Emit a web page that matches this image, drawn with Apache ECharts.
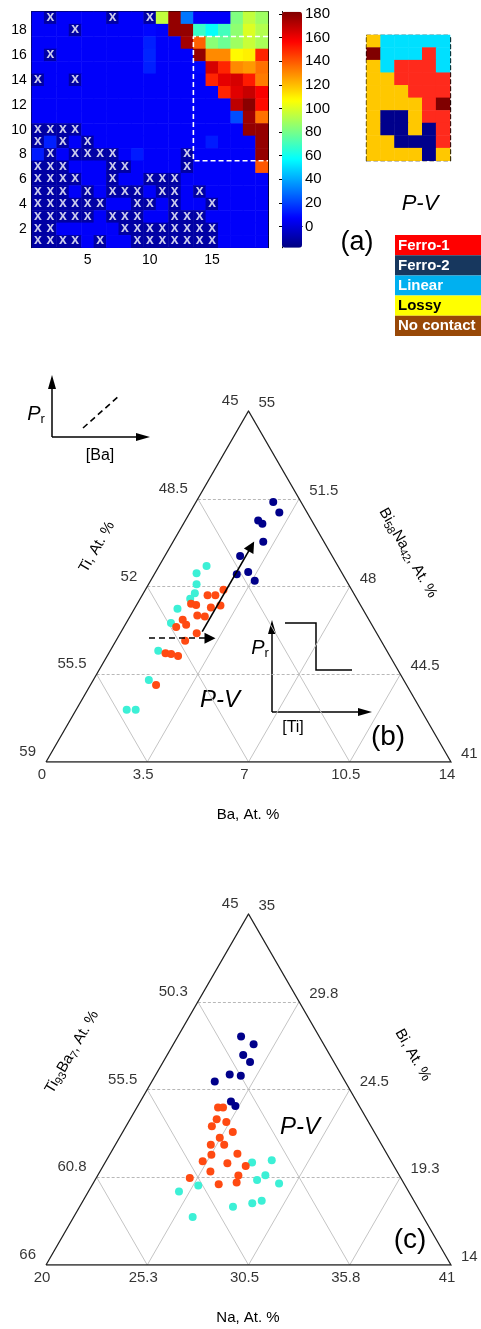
<!DOCTYPE html>
<html><head><meta charset="utf-8">
<script src="https://cdn.jsdelivr.net/npm/echarts@6/dist/echarts.min.js"></script>
<style>html,body{margin:0;padding:0;background:#fff}#c{width:481px;height:1329px}</style>
</head><body><div id="c"></div>
<script>
// ---------------- DATA ----------------
// (a) permittivity map, rows listed from top (19) to bottom (1), 19 columns each
const N = -11;
const epsRows = [
 [6,N,6,6,6,6,N,6,6,N,95,178,30,6,6,6,82,95,88],
 [6,6,6,N,6,6,6,6,6,8,6,178,178,68,58,70,85,100,92],
 [6,6,6,6,6,6,6,6,6,13,6,6,175,138,84,78,88,96,90],
 [6,N,6,6,6,6,6,6,6,14,6,6,6,178,130,130,108,110,150],
 [6,6,6,6,6,6,6,6,6,13,6,6,6,8,165,150,130,127,135],
 [N,6,6,N,6,6,6,6,6,6,6,6,6,6,150,162,165,152,133],
 [6,6,6,6,6,6,6,6,6,6,6,6,6,6,6,150,163,168,158],
 [6,6,6,6,6,6,6,6,6,6,6,6,6,6,6,6,170,180,155],
 [6,6,6,6,6,6,6,6,6,6,6,6,6,6,6,6,22,176,135],
 [N,N,N,N,6,6,6,6,6,6,6,6,6,6,6,6,6,178,178],
 [N,13,N,6,N,6,6,6,6,6,6,6,6,6,12,6,6,6,178],
 [12,N,6,N,N,N,N,6,12,6,6,6,N,6,6,6,6,6,178],
 [N,N,N,6,6,6,N,N,6,6,6,6,N,6,6,6,6,6,140],
 [N,N,N,N,6,6,N,6,6,N,N,N,6,6,6,6,6,6,6],
 [N,N,N,6,N,6,N,N,N,6,N,N,6,N,6,6,6,6,6],
 [N,N,N,N,N,N,6,6,N,N,6,N,6,6,N,6,6,6,6],
 [N,N,N,N,N,6,N,N,N,6,6,N,N,N,6,6,6,6,6],
 [N,N,6,6,6,6,6,N,N,N,N,N,N,N,N,6,6,6,6],
 [N,N,N,N,6,N,6,6,N,N,N,N,N,N,N,6,6,6,6]
];
// cells marked with "x" (row : columns)
const xMarks = {19:[2,7,10],18:[4],16:[2],14:[1,4],10:[1,2,3,4],9:[1,3,5],8:[2,4,5,6,7,13],
 7:[1,2,3,7,8,13],6:[1,2,3,4,7,10,11,12],5:[1,2,3,5,7,8,9,11,12,14],4:[1,2,3,4,5,6,9,10,12,15],
 3:[1,2,3,4,5,7,8,9,12,13,14],2:[1,2,8,9,10,11,12,13,14,15],1:[1,2,3,4,6,9,10,11,12,13,14,15]};
const epsMin = -18, epsMax = 182;
const cbTicks = [0,20,40,60,80,100,120,140,160,180];

// P-V class map (top row first), 0 Ferro-1, 1 Ferro-2, 2 Linear, 3 Lossy, 4 No contact
const pvRows = [
 [3,2,2,2,2,2],
 [4,2,2,2,0,2],
 [3,2,0,0,0,2],
 [3,3,0,0,0,0],
 [3,3,3,0,0,0],
 [3,3,3,3,0,4],
 [3,1,1,3,0,0],
 [3,1,1,3,1,0],
 [3,3,1,1,1,0],
 [3,3,3,3,1,3]
];
const pvColors = ['#ff2a1c','#00008c','#00e0ff','#ffc800','#800000'];
const legendNames = ['Ferro-1','Ferro-2','Linear','Lossy','No contact'];
const legendColors = ['#ff0000','#17375e','#00b0f0','#ffff00','#984807'];
const legendTextColors = ['#fff','#fff','#fff','#000','#fff'];

// (b) compositions [Ba, Ti, Bi58Na42] at.%
const bLinear = [[1.64,49.54,48.82],[1.44,50.03,48.53],[1.66,50.25,48.09],[1.78,50.49,47.73],[1.73,50.77,47.51],
 [1.49,51.40,47.11],[1.55,51.91,46.54],[1.66,52.90,45.44],[1.92,53.80,44.27],[1.75,55.17,43.08],[2.06,54.86,43.08]];
const bFerro1 = [[2.70,49.43,47.87],[2.26,50.09,47.65],[2.53,49.82,47.65],[1.86,50.83,47.31],[2.06,50.68,47.26],
 [2.62,50.22,47.16],[2.91,49.86,47.24],[2.31,50.85,46.84],[2.59,50.61,46.80],[1.89,51.44,46.67],[2.11,51.43,46.47],
 [1.81,51.81,46.38],[2.64,51.22,46.14],[2.39,51.77,45.84],[1.96,52.71,45.34],[2.17,52.52,45.31],[2.45,52.32,45.23],
 [2.27,53.66,44.07]];
const bFerro2 = [[2.67,45.96,51.37],[3.09,45.96,50.95],[2.52,46.85,50.63],[2.73,46.77,50.50],[3.12,47.10,49.78],
 [2.60,48.19,49.22],[3.20,48.22,48.58],[2.85,48.66,48.49],[3.60,48.17,48.23]];
const bTicksBottom = ['0','3.5','7','10.5','14'];
const bTicksLeft = ['59','55.5','52','48.5','45'];
const bTicksRight = ['41','44.5','48','51.5','55'];

// (c) compositions [Na, Ti93Ba7, Bi] at.%
const cFerro2 = [[23.28,49.05,27.67],[24.16,48.63,27.21],[23.94,49.49,26.57],[24.51,49.35,26.14],[23.83,50.78,25.39],
 [24.44,50.24,25.32],[23.26,51.76,24.98],[24.70,51.52,23.78],[25.06,51.42,23.52]];
const cFerro1 = [[24.21,52.37,23.42],[24.47,52.11,23.42],[24.49,52.79,22.72],[25.07,52.37,22.56],[24.45,53.25,22.30],
 [25.71,52.34,21.95],[25.20,53.18,21.62],[24.95,53.86,21.19],[25.64,53.16,21.20],[25.28,54.13,20.59],[26.60,52.75,20.65],
 [25.02,54.77,20.21],[26.36,53.55,20.09],[27.39,52.68,19.93],[25.73,54.68,19.59],[27.30,53.35,19.35],[24.85,55.94,19.21],
 [27.42,53.65,18.93],[26.54,54.63,18.83]];
const cLinear = [[27.62,52.25,20.13],[28.57,51.16,20.27],[28.69,51.94,19.37],[28.40,52.51,19.09],[29.65,51.48,18.87],
 [25.52,55.73,18.75],[24.70,56.91,18.39],[29.26,52.89,17.85],[28.85,53.46,17.69],[27.95,54.56,17.49],[26.17,56.96,16.87]];
const cTicksBottom = ['20','25.3','30.5','35.8','41'];
const cTicksLeft = ['66','60.8','55.5','50.3','45'];
const cTicksRight = ['14','19.3','24.5','29.8','35'];

// ---------------- BUILD ----------------
const FONT = "'Liberation Sans', Arial, sans-serif";
const jet = ['#000080','#0000ff','#0080ff','#00ffff','#80ff80','#ffff00','#ff8000','#ff0000','#800000'];
const cols = Array.from({length:19},(_,i)=>String(i+1));
const rows = Array.from({length:19},(_,i)=>String(i+1));
const heat = [];
epsRows.forEach((r,ri)=>{ const row = 19-ri; r.forEach((v,ci)=>heat.push([ci,row-1,v])); });
const xm = [];
Object.keys(xMarks).forEach(r=>xMarks[r].forEach(c=>xm.push([c-1,+r-1])));
const pvData = [];
pvRows.forEach((r,ri)=>{ r.forEach((v,ci)=>pvData.push([ci, pvRows.length-1-ri, v])); });

const SQ = Math.sqrt(3)/2;
function tri(a,c){ return [a + c/2, c*SQ]; }

function ternarySeries(cfg){
  const xi = cfg.axis, yi = cfg.axis;
  const pos = p => tri((p[0]-cfg.bMin)/cfg.span, (p[2]-cfg.rMin)/cfg.span);
  const s = [];
  const hor = [], diag = [];
  [0.25,0.5,0.75].forEach(f=>{
    hor.push({coords:[tri(0,f),tri(1-f,f)]});
    diag.push({coords:[tri(f,0),tri(f,1-f)]});
    diag.push({coords:[tri(f,0),tri(0,f)]});
  });
  s.push({type:'lines',coordinateSystem:'cartesian2d',xAxisIndex:xi,yAxisIndex:yi,silent:true,
    lineStyle:{color:'#c4c4c4',width:1,type:'solid',opacity:1},data:diag,z:1});
  s.push({type:'lines',coordinateSystem:'cartesian2d',xAxisIndex:xi,yAxisIndex:yi,silent:true,
    lineStyle:{color:'#b8b8b8',width:1,type:[3,2],opacity:1},data:hor,z:1});
  s.push({type:'lines',coordinateSystem:'cartesian2d',xAxisIndex:xi,yAxisIndex:yi,silent:true,polyline:true,
    lineStyle:{color:'#222',width:1.3,opacity:1},data:[{coords:[tri(0,0),tri(1,0),tri(0,1),tri(0,0)]}],z:2});
  const lbl = (pts,names,position,offset)=>({type:'scatter',xAxisIndex:xi,yAxisIndex:yi,symbolSize:0,silent:true,
    data:pts.map((p,i)=>({value:p,name:names[i]})),
    label:{show:true,formatter:'{b}',position:position,distance:position==='bottom'?5:10,offset:offset,
      fontSize:15,color:'#000',fontFamily:FONT}});
  s.push(lbl([0,1,2,3,4].map(k=>tri(k/4,0)),cfg.tB,'bottom',[-4,0]));
  s.push(lbl([0,1,2,3,4].map(k=>tri(0,k/4)),cfg.tL,'left',[0,-10]));
  s.push(lbl([0,1,2,3,4].map(k=>tri(1-k/4,k/4)),cfg.tR,'right',[0,-8]));
  cfg.groups.forEach(g=>{
    s.push({type:'scatter',xAxisIndex:xi,yAxisIndex:yi,symbolSize:8,z:5,
      itemStyle:{color:g.color,opacity:1},data:g.data.map(pos)});
  });
  (cfg.arrows||[]).forEach(ar=>{
    s.push({type:'lines',coordinateSystem:'cartesian2d',xAxisIndex:xi,yAxisIndex:yi,silent:true,z:6,
      symbol:['none','triangle'],symbolSize:[0,11],
      lineStyle:{color:'#000',width:1.6,type:ar.dashed?[6,4]:'solid',opacity:1},
      data:[{coords:[pos(ar.from),pos(ar.to)]}]});
  });
  return s;
}

const colTerCyan = '#3cf0d6', colTerOrange = '#ff4a12', colTerNavy = '#00008a';

const series = [
  {type:'heatmap',xAxisIndex:0,yAxisIndex:0,data:heat,silent:true,itemStyle:{borderWidth:0}},
  {type:'scatter',xAxisIndex:0,yAxisIndex:0,data:xm,symbol:'circle',symbolSize:2,silent:true,
    itemStyle:{color:'rgba(0,0,0,0)'},z:4,
    label:{show:true,position:'inside',formatter:'x',color:'#fff',fontWeight:'bold',fontSize:14,fontFamily:FONT,offset:[0,-1]}},
  {type:'line',xAxisIndex:2,yAxisIndex:2,data:[[19.5,17.5],[13.5,17.5],[13.5,7.5],[19.5,7.5]],symbol:'none',silent:true,z:5,
    lineStyle:{color:'#fff',width:1.6,type:[5,3]}},
  {type:'heatmap',xAxisIndex:5,yAxisIndex:5,data:pvData,silent:true},
  ...ternarySeries({axis:7,bMin:0,rMin:41,span:14,tB:bTicksBottom,tL:bTicksLeft,tR:bTicksRight,
    groups:[{data:bLinear,color:colTerCyan},{data:bFerro1,color:colTerOrange},{data:bFerro2,color:colTerNavy}],
    arrows:[{from:[1.09,0,45.94],to:[3.2,0,45.94],dashed:true},{from:[2.8,0,46.2],to:[2.8,0,49.6],dashed:false}]}),
  ...ternarySeries({axis:8,bMin:20,rMin:14,span:21,tB:cTicksBottom,tL:cTicksLeft,tR:cTicksRight,
    groups:[{data:cLinear,color:colTerCyan},{data:cFerro1,color:colTerOrange},{data:cFerro2,color:colTerNavy}]})
];

const hmG = {left:31.7,top:11.7,width:236.3,height:236};
const cbG = {left:282,top:11.7,width:20,height:236};
const pvG = {left:366.7,top:35,width:83.3,height:125.7};
const tbG = {left:46,top:411,width:405,height:351};
const tcG = {left:46,top:914,width:405,height:351};

const catTick = (keep)=>({show:true,inside:true,length:4,alignWithLabel:true,interval:keep,lineStyle:{color:'#000'}});
const xKeep = (i)=> (i+1)%5===0;
const yKeep = (i)=> (i+1)%2===0;
const blackLine = {show:true,lineStyle:{color:'#000',width:1}};
const dashLine = {show:true,lineStyle:{color:'#000',width:1.3,type:[4,3]}};
const hidden = {show:false};

const option = {
  animation:false,
  backgroundColor:'#fff',
  textStyle:{fontFamily:FONT},
  grid:[
    Object.assign({containLabel:false},hmG),
    Object.assign({},hmG),
    Object.assign({},cbG),
    Object.assign({},pvG),
    Object.assign({},tbG),
    Object.assign({},tcG)
  ],
  xAxis:[
    {type:'category',gridIndex:0,data:cols,position:'bottom',axisLine:blackLine,axisTick:catTick(xKeep),
      axisLabel:{interval:xKeep,fontSize:14,color:'#000',margin:5,fontFamily:FONT},splitLine:hidden},
    {type:'category',gridIndex:0,data:cols,position:'top',axisLine:blackLine,axisTick:catTick(xKeep),axisLabel:hidden,splitLine:hidden},
    {type:'value',gridIndex:1,min:0.5,max:19.5,show:false},
    {type:'value',gridIndex:2,min:0,max:1,position:'bottom',axisLine:blackLine,axisTick:hidden,axisLabel:hidden,splitLine:hidden},
    {type:'value',gridIndex:2,min:0,max:1,position:'top',axisLine:blackLine,axisTick:hidden,axisLabel:hidden,splitLine:hidden},
    {type:'category',gridIndex:3,data:[1,2,3,4,5,6],position:'bottom',axisLine:dashLine,axisTick:hidden,axisLabel:hidden,splitLine:hidden},
    {type:'category',gridIndex:3,data:[1,2,3,4,5,6],position:'top',axisLine:dashLine,axisTick:hidden,axisLabel:hidden,splitLine:hidden},
    {type:'value',gridIndex:4,min:0,max:1,show:false},
    {type:'value',gridIndex:5,min:0,max:1,show:false}
  ],
  yAxis:[
    {type:'category',gridIndex:0,data:rows,position:'left',axisLine:blackLine,axisTick:catTick(yKeep),
      axisLabel:{interval:yKeep,fontSize:14,color:'#000',margin:5,fontFamily:FONT},splitLine:hidden},
    {type:'category',gridIndex:0,data:rows,position:'right',axisLine:blackLine,axisTick:catTick(yKeep),axisLabel:hidden,splitLine:hidden},
    {type:'value',gridIndex:1,min:0.5,max:19.5,show:false},
    {type:'value',gridIndex:2,min:epsMin,max:epsMax,position:'left',axisLine:blackLine,
      axisTick:{show:true,inside:true,length:3,customValues:cbTicks,lineStyle:{color:'#000'}},axisLabel:hidden,splitLine:hidden},
    {type:'value',gridIndex:2,min:epsMin,max:epsMax,position:'right',axisLine:blackLine,
      axisTick:{show:true,inside:true,length:3,customValues:cbTicks,lineStyle:{color:'#000'}},
      axisLabel:{show:true,customValues:cbTicks,fontSize:15,color:'#000',margin:3,fontFamily:FONT},splitLine:hidden},
    {type:'category',gridIndex:3,data:[1,2,3,4,5,6,7,8,9,10],position:'left',axisLine:dashLine,axisTick:hidden,axisLabel:hidden,splitLine:hidden},
    {type:'category',gridIndex:3,data:[1,2,3,4,5,6,7,8,9,10],position:'right',axisLine:dashLine,
      axisTick:{show:true,inside:true,length:3,alignWithLabel:true,interval:1,lineStyle:{color:'#000'}},axisLabel:hidden,splitLine:hidden},
    {type:'value',gridIndex:4,min:0,max:SQ,show:false},
    {type:'value',gridIndex:5,min:0,max:SQ,show:false}
  ],
  visualMap:[
    {type:'continuous',seriesIndex:0,min:epsMin,max:epsMax,calculable:false,realtime:false,orient:'vertical',
      left:cbG.left,top:cbG.top,itemWidth:cbG.width,itemHeight:cbG.height,padding:0,text:null,showLabel:false,
      inRange:{color:jet},hoverLink:false},
    {type:'piecewise',seriesIndex:3,show:false,pieces:pvColors.map((c,i)=>({value:i,color:c}))}
  ],
  graphic:[],
  series:series
};

// ---- annotations (text & schematic insets) ----
const G = option.graphic;
const txt = (x,y,text,style,rot)=>G.push({type:'text',x:x,y:y,rotation:rot||0,silent:true,
  style:Object.assign({text:text,fill:'#000',font:'15px '+FONT,align:'center',verticalAlign:'middle'},style)});
// (a)
G.push({type:'text',x:153,y:118,silent:true,style:{text:'{e|ε}{s|r}',fill:'#fff',align:'center',verticalAlign:'middle',
  rich:{e:{fontSize:25,fill:'#fff',fontFamily:FONT},s:{fontSize:17,fill:'#fff',fontFamily:FONT,padding:[12,0,0,0]}}}});
txt(420,204,'P-V',{font:'italic 22px '+FONT});
txt(357,243,'(a)',{font:'27px '+FONT});
legendNames.forEach((n,i)=>{
  G.push({type:'rect',silent:true,shape:{x:395,y:235+i*20.2,width:86,height:20.2},style:{fill:legendColors[i]}});
  G.push({type:'text',silent:true,x:398,y:235+i*20.2+10.5,style:{text:n,fill:legendTextColors[i],
    font:'bold 15px '+FONT,align:'left',verticalAlign:'middle'}});
});
// (b)
txt(97,547,'Ti, At. %',{},Math.PI/3);
G.push({type:'text',x:408,y:553,rotation:-Math.PI/3,silent:true,style:{text:'{n|Bi}{s|58}{n|Na}{s|42}{n|, At. %}',
  align:'center',verticalAlign:'middle',rich:{n:{fontSize:15,fontFamily:FONT,fill:'#000'},
  s:{fontSize:11,fontFamily:FONT,fill:'#000',padding:[8,0,0,0]}}}});
txt(248,815,'Ba, At. %',{});
txt(220,700,'P-V',{font:'italic 24px '+FONT});
txt(388,737,'(b)',{font:'28px '+FONT});
// inset: Pr vs [Ba]
G.push({type:'polyline',silent:true,shape:{points:[[52,437],[52,382]]},style:{stroke:'#000',lineWidth:1.5}});
G.push({type:'polygon',silent:true,shape:{points:[[52,375],[48,389],[56,389]]},style:{fill:'#000'}});
G.push({type:'polyline',silent:true,shape:{points:[[52,437],[142,437]]},style:{stroke:'#000',lineWidth:1.5}});
G.push({type:'polygon',silent:true,shape:{points:[[150,437],[136,433],[136,441]]},style:{fill:'#000'}});
G.push({type:'polyline',silent:true,shape:{points:[[83,428],[120,395]]},style:{stroke:'#000',lineWidth:1.6,lineDash:[6,4]}});
G.push({type:'text',x:36,y:414,silent:true,style:{text:'{p|P}{s|r}',align:'center',verticalAlign:'middle',
  rich:{p:{fontSize:20,fontStyle:'italic',fontFamily:FONT,fill:'#000'},s:{fontSize:13,fontFamily:FONT,fill:'#000',padding:[10,0,0,0]}}}});
txt(100,456,'[Ba]',{font:'16px '+FONT});
// inset: Pr vs [Ti]
G.push({type:'polyline',silent:true,shape:{points:[[272,712],[272,628]]},style:{stroke:'#000',lineWidth:1.5}});
G.push({type:'polygon',silent:true,shape:{points:[[272,620],[268,634],[276,634]]},style:{fill:'#000'}});
G.push({type:'polyline',silent:true,shape:{points:[[272,712],[364,712]]},style:{stroke:'#000',lineWidth:1.5}});
G.push({type:'polygon',silent:true,shape:{points:[[372,712],[358,708],[358,716]]},style:{fill:'#000'}});
G.push({type:'polyline',silent:true,shape:{points:[[285,623],[316,623],[316,670],[352,670]]},style:{stroke:'#000',lineWidth:1.5}});
G.push({type:'text',x:260,y:648,silent:true,style:{text:'{p|P}{s|r}',align:'center',verticalAlign:'middle',
  rich:{p:{fontSize:20,fontStyle:'italic',fontFamily:FONT,fill:'#000'},s:{fontSize:13,fontFamily:FONT,fill:'#000',padding:[10,0,0,0]}}}});
txt(293,728,'[Ti]',{font:'16px '+FONT});
// (c)
G.push({type:'text',x:72,y:1052,rotation:Math.PI/3,silent:true,style:{text:'{n|Ti}{s|93}{n|Ba}{s|7}{n|, At. %}',
  align:'center',verticalAlign:'middle',rich:{n:{fontSize:15,fontFamily:FONT,fill:'#000'},
  s:{fontSize:11,fontFamily:FONT,fill:'#000',padding:[8,0,0,0]}}}});
txt(413,1055,'Bi, At. %',{},-Math.PI/3);
txt(248,1318,'Na, At. %',{});
txt(300,1127,'P-V',{font:'italic 24px '+FONT});
txt(410,1240,'(c)',{font:'28px '+FONT});

const chart = echarts.init(document.getElementById('c'),null,{renderer:'canvas'});
chart.setOption(option);
</script>
</body></html>
